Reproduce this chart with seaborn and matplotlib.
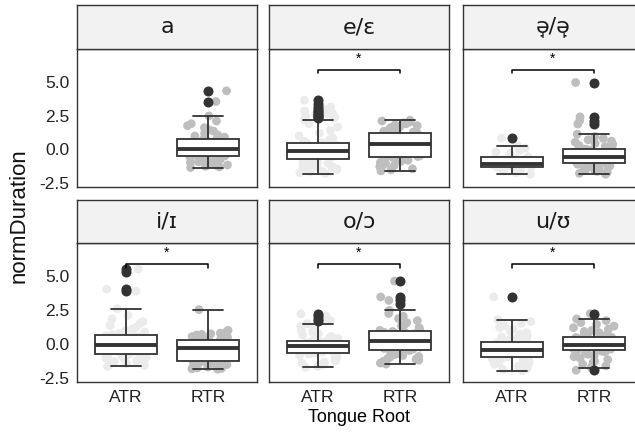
import numpy as np
import pandas as pd
import matplotlib
matplotlib.use("Agg")
import matplotlib.pyplot as plt
import seaborn as sns

# ---- data: normalised vowel durations by tongue-root setting ----
vowels = ["a", "e/ɛ", "ə̘/ə̙", "i/ɪ", "o/ɔ", "u/ʊ"]
roots = ["ATR", "RTR"]
significant = ["e/ɛ", "ə̘/ə̙", "i/ɪ", "o/ɔ", "u/ʊ"]

a_rtr = [-1.37, -1.32, -1.28, -1.22, -1.18, -1.12, -1.06, -1.0, -0.94, -0.88,
         -0.82, -0.75, -0.68, -0.62, -0.56,
         -0.5, -0.46, -0.43, -0.4, -0.36, -0.33, -0.3, -0.26, -0.22, -0.19,
         -0.16, -0.12, -0.09, -0.06, -0.03,
         0.0, 0.04, 0.08, 0.12, 0.17, 0.22, 0.27, 0.32, 0.37, 0.42,
         0.48, 0.54, 0.6, 0.65, 0.7,
         0.75, 0.82, 0.9, 0.98, 1.06, 1.15, 1.25, 1.35, 1.45, 1.6,
         1.75, 1.9, 2.1, 2.48, 3.55, 4.35]

e_atr = [-1.82, -1.76, -1.7, -1.64, -1.58, -1.52, -1.46, -1.4, -1.34, -1.28,
         -1.22, -1.16, -1.1, -1.05, -1.0, -0.95, -0.9, -0.85, -0.8, -0.75,
         -0.7, -0.67, -0.64, -0.61, -0.58, -0.55, -0.52, -0.49, -0.46, -0.43,
         -0.4, -0.37, -0.34, -0.31, -0.28, -0.25, -0.22, -0.2, -0.18, -0.16,
         -0.15, -0.12, -0.09, -0.06, -0.03, 0.0, 0.03, 0.06, 0.1, 0.13,
         0.17, 0.2, 0.24, 0.27, 0.31, 0.34, 0.38, 0.41, 0.44, 0.47,
         0.49, 0.58, 0.7, 0.85, 1.0, 1.2, 1.4, 1.65, 1.9, 2.2,
         2.32, 2.4, 2.48, 2.56, 2.64, 2.74, 2.85, 2.98, 3.15, 3.35, 3.65]
e_rtr = [-1.62, -1.54, -1.46, -1.38, -1.3, -1.22, -1.14, -1.06, -0.98, -0.9,
         -0.83, -0.76, -0.69, -0.63, -0.59,
         -0.55, -0.48, -0.41, -0.34, -0.27, -0.2, -0.13, -0.06, 0.0, 0.06,
         0.12, 0.18, 0.24, 0.29, 0.33,
         0.37, 0.42, 0.47, 0.52, 0.57, 0.62, 0.67, 0.72, 0.78, 0.84,
         0.9, 0.96, 1.02, 1.08, 1.13,
         1.17, 1.22, 1.28, 1.34, 1.4, 1.47, 1.54, 1.61, 1.68, 1.75,
         1.82, 1.89, 1.96, 2.03, 2.1, 2.16]

schwa_atr = [-1.87, -1.75, -1.65, -1.56, -1.48, -1.41, -1.35,
             -1.3, -1.27, -1.24, -1.21, -1.18, -1.15, -1.12,
             -1.1, -1.02, -0.94, -0.86, -0.78, -0.7, -0.63,
             -0.57, -0.45, -0.32, -0.2, -0.08, 0.08, 0.25, 0.82]
schwa_rtr = [-1.87, -1.8, -1.73, -1.66, -1.6, -1.54, -1.48, -1.42, -1.36, -1.3,
             -1.24, -1.18, -1.12, -1.07, -1.03,
             -1.0, -0.97, -0.94, -0.91, -0.88, -0.85, -0.82, -0.79, -0.76, -0.73,
             -0.7, -0.67, -0.64, -0.61, -0.58,
             -0.55, -0.51, -0.47, -0.43, -0.39, -0.35, -0.31, -0.27, -0.23, -0.19,
             -0.15, -0.11, -0.07, -0.03, 0.01,
             0.05, 0.12, 0.2, 0.28, 0.36, 0.44, 0.52, 0.6, 0.7, 0.8,
             0.95, 1.12, 1.87, 2.11, 2.41, 4.97]

i_atr = [-1.67, -1.6, -1.53, -1.46, -1.39, -1.32, -1.25, -1.18, -1.11, -1.04,
         -0.98, -0.92, -0.86, -0.81, -0.78,
         -0.75, -0.7, -0.65, -0.6, -0.55, -0.5, -0.45, -0.4, -0.35, -0.3,
         -0.25, -0.2, -0.15, -0.11, -0.08,
         -0.05, 0.0, 0.05, 0.1, 0.15, 0.2, 0.25, 0.3, 0.35, 0.4,
         0.45, 0.5, 0.55, 0.6, 0.65,
         0.69, 0.78, 0.88, 0.98, 1.1, 1.22, 1.35, 1.5, 1.65, 1.85,
         2.1, 2.61, 3.9, 4.05, 5.3, 5.55]
i_rtr = [-1.87, -1.84, -1.81, -1.78, -1.75, -1.72, -1.69, -1.65, -1.61, -1.57,
         -1.53, -1.48, -1.43, -1.38, -1.34,
         -1.3, -1.22, -1.14, -1.06, -0.98, -0.9, -0.83, -0.76, -0.69, -0.62,
         -0.56, -0.5, -0.45, -0.41, -0.37,
         -0.33, -0.29, -0.25, -0.21, -0.17, -0.13, -0.09, -0.05, -0.01, 0.04,
         0.09, 0.14, 0.19, 0.23, 0.27,
         0.3, 0.34, 0.38, 0.42, 0.46, 0.5, 0.54, 0.58, 0.62, 0.66,
         0.7, 0.75, 0.8, 0.88, 1.0, 2.54]

o_atr = [-1.74, -1.66, -1.58, -1.5, -1.42, -1.34, -1.26, -1.18, -1.1, -1.02,
         -0.94, -0.86, -0.79, -0.74, -0.7,
         -0.67, -0.64, -0.61, -0.58, -0.55, -0.52, -0.49, -0.46, -0.43, -0.4,
         -0.36, -0.32, -0.28, -0.24, -0.21,
         -0.18, -0.15, -0.12, -0.09, -0.06, -0.03, 0.0, 0.03, 0.06, 0.09,
         0.12, 0.15, 0.18, 0.21, 0.23,
         0.25, 0.32, 0.4, 0.48, 0.57, 0.66, 0.76, 0.88, 1.0, 1.15,
         1.3, 1.5, 1.72, 1.88, 2.05, 2.22]
o_rtr = [-1.49, -1.42, -1.35, -1.28, -1.21, -1.14, -1.07, -1.0, -0.93, -0.86,
         -0.79, -0.72, -0.64, -0.56, -0.49,
         -0.43, -0.38, -0.33, -0.28, -0.23, -0.18, -0.13, -0.08, -0.04, 0.0,
         0.04, 0.08, 0.12, 0.15, 0.18,
         0.2, 0.25, 0.3, 0.35, 0.4, 0.45, 0.5, 0.55, 0.6, 0.65,
         0.7, 0.75, 0.8, 0.85, 0.89,
         0.92, 1.0, 1.1, 1.2, 1.32, 1.44, 1.58, 1.72, 1.88, 2.05,
         2.25, 2.48, 2.98, 3.22, 3.48, 4.65]

u_atr = [-1.99, -1.9, -1.82, -1.74, -1.66, -1.58, -1.5, -1.42, -1.35, -1.28,
         -1.22, -1.16, -1.11, -1.06, -1.03,
         -1.0, -0.96, -0.92, -0.88, -0.84, -0.8, -0.76, -0.72, -0.68, -0.64,
         -0.6, -0.56, -0.52, -0.49, -0.46,
         -0.43, -0.39, -0.35, -0.31, -0.27, -0.23, -0.19, -0.15, -0.11, -0.07,
         -0.03, 0.01, 0.06, 0.1, 0.14,
         0.17, 0.25, 0.34, 0.43, 0.52, 0.62, 0.72, 0.83, 0.95, 1.08,
         1.22, 1.37, 1.52, 1.66, 1.79, 3.48]
u_rtr = [-1.95, -1.75, -1.62, -1.5, -1.38, -1.27, -1.16, -1.05, -0.95, -0.86,
         -0.77, -0.68, -0.6, -0.53, -0.48,
         -0.45, -0.42, -0.39, -0.36, -0.33, -0.3, -0.27, -0.24, -0.21, -0.18,
         -0.16, -0.14, -0.12, -0.1, -0.08,
         -0.07, -0.03, 0.01, 0.05, 0.09, 0.13, 0.17, 0.21, 0.25, 0.29,
         0.33, 0.37, 0.41, 0.44, 0.47,
         0.49, 0.55, 0.62, 0.69, 0.76, 0.84, 0.92, 1.0, 1.1, 1.2,
         1.32, 1.45, 1.58, 1.72, 1.85, 2.24]

groups = {
    ("a", "RTR"): a_rtr,
    ("e/ɛ", "ATR"): e_atr, ("e/ɛ", "RTR"): e_rtr,
    ("ə̘/ə̙", "ATR"): schwa_atr, ("ə̘/ə̙", "RTR"): schwa_rtr,
    ("i/ɪ", "ATR"): i_atr, ("i/ɪ", "RTR"): i_rtr,
    ("o/ɔ", "ATR"): o_atr, ("o/ɔ", "RTR"): o_rtr,
    ("u/ʊ", "ATR"): u_atr, ("u/ʊ", "RTR"): u_rtr,
}

rows = []
for (vowel, root), vals in groups.items():
    for v in vals:
        rows.append({"vowel": vowel, "root": root, "normDuration": v})
df = pd.DataFrame(rows)

y_ticks = [-2.5, 0.0, 2.5, 5.0]
y_ticklabels = ["-2.5", "0.0", "2.5", "5.0"]

# ---- style ----
sns.set_theme(style="white")
plt.rcParams["font.family"] = ["Liberation Sans", "DejaVu Sans"]
plt.rcParams["axes.unicode_minus"] = False

DARK = "#333333"
POINT_COLORS = {"ATR": "#EBEBEB", "RTR": "#BEBEBE"}
BRACKET_Y = 5.9
BRACKET_DROP = 0.25
STAR_Y = 6.75

W, H = 635, 436
fig = plt.figure(figsize=(W / 100, H / 100), dpi=100)
fig.patch.set_facecolor("white")

col_left = [77, 269, 463]
panel_w = 180
row_tops = [(5, 49, 187), (200, 243, 382)]  # strip top, panel top, panel bottom


def px_rect(x0, y0, x1, y1):
    return [x0 / W, 1 - y1 / H, (x1 - x0) / W, (y1 - y0) / H]


np.random.seed(7)

for idx, vowel in enumerate(vowels):
    r, c = divmod(idx, 3)
    s_top, p_top, p_bot = row_tops[r]
    x0 = col_left[c]
    ax = fig.add_axes(px_rect(x0, p_top, x0 + panel_w, p_bot))
    sax = fig.add_axes(px_rect(x0, s_top, x0 + panel_w, p_top))

    sub = df[df["vowel"] == vowel]
    sns.stripplot(data=sub, x="root", y="normDuration", order=roots,
                  hue="root", hue_order=roots, palette=POINT_COLORS,
                  jitter=0.25, size=6.3, linewidth=0, legend=False, ax=ax)
    for coll in ax.collections:
        coll.set_zorder(0.5)
    sns.boxplot(data=sub, x="root", y="normDuration", order=roots,
                color="white", saturation=1, width=0.75,
                linecolor=DARK, linewidth=1.3, fliersize=6.2,
                flierprops=dict(marker="o", markerfacecolor=DARK,
                                markeredgecolor=DARK),
                medianprops=dict(linewidth=2.8, color=DARK), ax=ax)

    if vowel in significant:
        ax.plot([0, 0, 1, 1],
                [BRACKET_Y - BRACKET_DROP, BRACKET_Y, BRACKET_Y, BRACKET_Y - BRACKET_DROP],
                color="black", lw=1.1, zorder=4)
        ax.text(0.5, STAR_Y, "*", ha="center", va="center", fontsize=10,
                color="black")

    ax.set_xlim(-0.6, 1.6)
    ax.set_ylim(-2.82, 7.47)
    ax.set_xlabel("")
    ax.set_ylabel("")
    ax.set_yticks(y_ticks)
    ax.set_xticks([0, 1])
    ax.set_facecolor("white")
    for sp in ax.spines.values():
        sp.set_visible(True)
        sp.set_color(DARK)
        sp.set_linewidth(1.0)
    ax.tick_params(axis="both", length=3.5, width=0.9, color=DARK,
                   labelsize=12.5, labelcolor="#222222", pad=2)
    if c == 0:
        ax.set_yticklabels(y_ticklabels)
    else:
        ax.tick_params(axis="y", left=False, labelleft=False)
    if r == 1:
        ax.set_xticklabels(roots)
    else:
        ax.tick_params(axis="x", bottom=False, labelbottom=False)

    sax.set_facecolor("#F2F2F2")
    sax.set_xticks([])
    sax.set_yticks([])
    for sp in sax.spines.values():
        sp.set_visible(True)
        sp.set_color(DARK)
        sp.set_linewidth(1.0)
    sax.text(0.5, 0.5, vowel, ha="center", va="center", fontsize=16,
             color="#1a1a1a", transform=sax.transAxes,
             family=["DejaVu Sans"])

fig.text(19 / W, 1 - 216 / H, "normDuration", rotation=90, ha="center",
         va="center", fontsize=16, color="#111111")
fig.text(359 / W, 1 - 422 / H, "Tongue Root", ha="center", va="baseline",
         fontsize=13, color="black")

fig.savefig("out.png", dpi=100, facecolor="white")
